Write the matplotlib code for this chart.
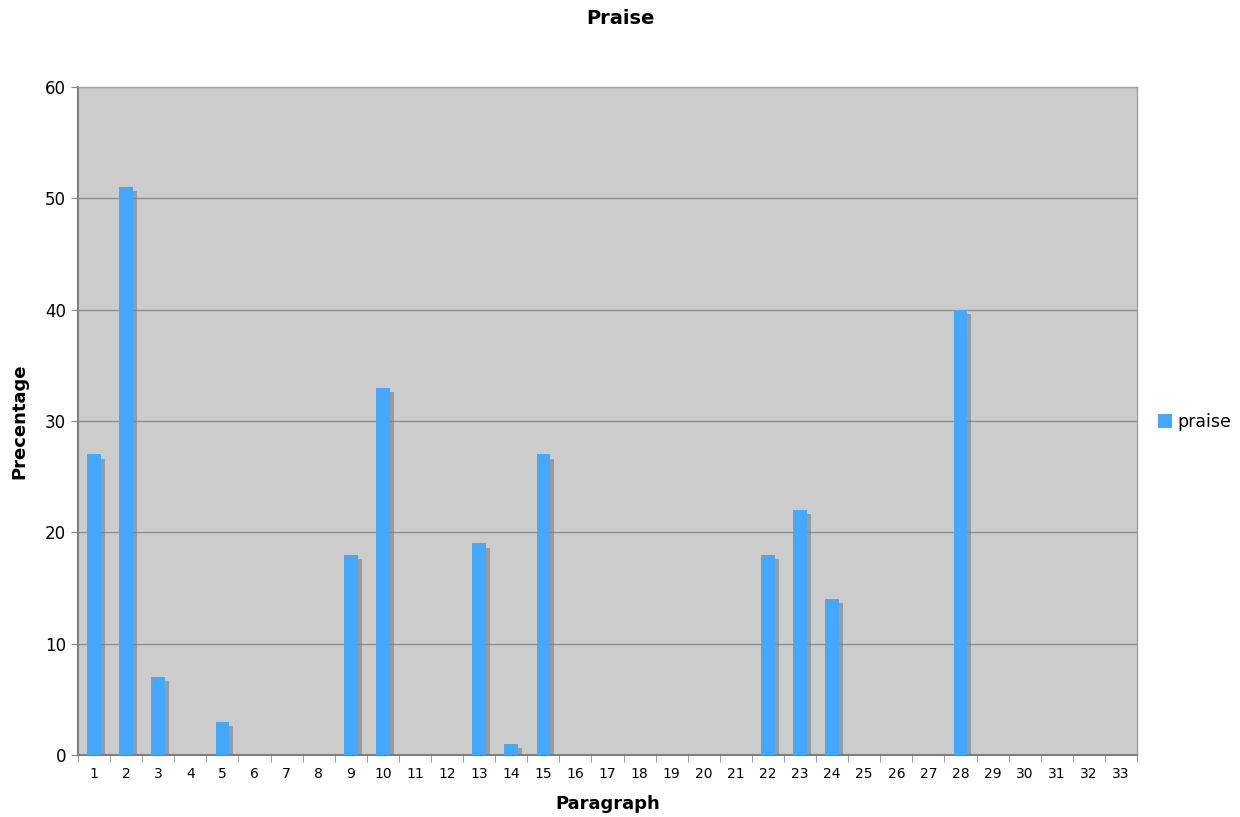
import matplotlib
matplotlib.use("Agg")
import matplotlib.pyplot as plt
import matplotlib.patheffects as pe
from matplotlib.patches import Patch
import numpy as np

paragraphs = list(range(1, 34))
praise = [27, 51, 7, 0, 3, 0, 0, 0, 18, 33, 0, 0, 19, 1, 27, 0, 0, 0, 0, 0, 0,
          18, 22, 14, 0, 0, 0, 40, 0, 0, 0, 0, 0]
yticks = [0, 10, 20, 30, 40, 50, 60]

fig = plt.figure(figsize=(12.4, 8.17), dpi=100)
ax = fig.add_axes([78/1240, 62/817, 1059/1240, 668/817])
ax.set_facecolor("#cccccc")

x = np.arange(len(paragraphs))
bars = ax.bar(x, praise, width=0.42, color="#45a8ff", zorder=3,
              path_effects=[pe.SimplePatchShadow(offset=(3, -3), shadow_rgbFace="#7a7a7a", alpha=0.6), pe.Normal()])

ax.set_xlim(-0.5, len(paragraphs) - 0.5)
ax.set_ylim(0, 60)
ax.set_yticks(yticks)
ax.yaxis.grid(True, color="#8f8f8f", linewidth=1.0, zorder=0)
ax.set_axisbelow(True)

ax.set_xticks(x)
ax.set_xticklabels([str(p) for p in paragraphs], fontsize=10)
ax.set_xticks(np.arange(-0.5, len(paragraphs)), minor=True)
ax.tick_params(axis="x", which="major", length=0, pad=9)
ax.tick_params(axis="x", which="minor", length=5, color="#888888")
ax.tick_params(axis="y", labelsize=12, length=5, color="#888888")

for s in ["left", "bottom"]:
    ax.spines[s].set_color("#7f7f7f")
    ax.spines[s].set_linewidth(1.5)
for s in ["top", "right"]:
    ax.spines[s].set_color("#a0a0a0")
    ax.spines[s].set_linewidth(1.0)

fig.text(0.5, 1 - 18/817, "Praise", ha="center", va="center", fontsize=14, fontweight="bold")
ax.set_xlabel("Paragraph", fontsize=13, fontweight="bold", labelpad=10)
ax.set_ylabel("Precentage", fontsize=13, fontweight="bold", labelpad=12)

handle = Patch(facecolor="#45a8ff", edgecolor="none")
fig.legend(handles=[handle], labels=["praise"], loc="center left",
           bbox_to_anchor=(1158/1240, 1 - 422/817), frameon=False,
           fontsize=12.5, handlelength=0.8, handleheight=0.8, handletextpad=0.3,
           borderaxespad=0, borderpad=0)

fig.savefig("out.png", dpi=100)
